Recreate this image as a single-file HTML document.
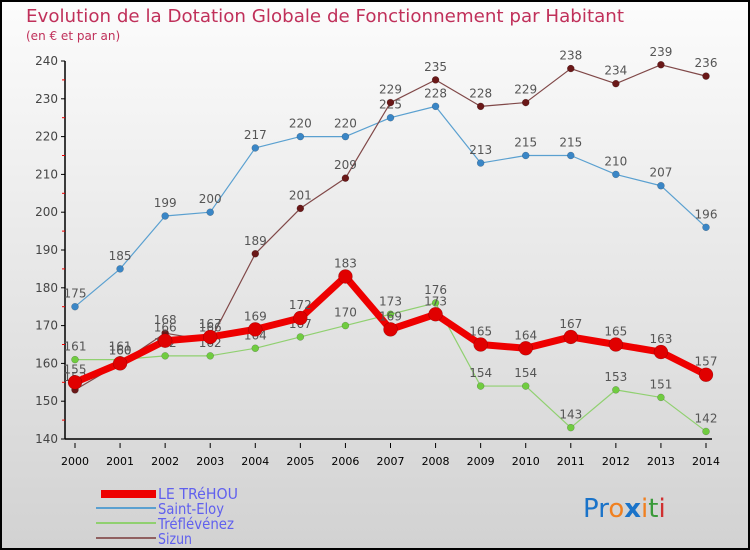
<!DOCTYPE html>
<html><head><meta charset="utf-8"><style>
body{margin:0}
#c{width:750px;height:550px;position:relative;box-sizing:border-box;border:2px solid #000;background:linear-gradient(#fcfcfc,#d2d2d2);overflow:hidden;font-family:"DejaVu Sans","Liberation Sans",sans-serif}
svg text{font-family:"DejaVu Sans","Liberation Sans",sans-serif}
</style></head><body>
<div id="c">
<svg id="s" width="746" height="546" viewBox="2 2 746 546" style="position:absolute;left:0;top:0">
<text x="26" y="22" font-size="18" fill="#c0305a" textLength="598" lengthAdjust="spacingAndGlyphs">Evolution de la Dotation Globale de Fonctionnement par Habitant</text>
<text x="26" y="40" font-size="12" fill="#c0305a">(en € et par an)</text>
<g id="axes"></g><g id="series"></g>
<g>
<rect x="101" y="490" width="55" height="8" fill="#e00"/>
<text x="158" y="499" font-size="15" fill="#6060ee" textLength="80" lengthAdjust="spacingAndGlyphs">LE TRéHOU</text>
<rect x="96" y="507" width="60" height="2" fill="#5aa0d0"/>
<text x="158" y="514" font-size="15" fill="#6060ee" textLength="66" lengthAdjust="spacingAndGlyphs">Saint-Eloy</text>
<rect x="96" y="522" width="60" height="2" fill="#90d070"/>
<text x="158" y="529" font-size="15" fill="#6060ee" textLength="76" lengthAdjust="spacingAndGlyphs">Tréflévénez</text>
<rect x="96" y="537" width="60" height="2" fill="#906060"/>
<text x="158" y="544" font-size="15" fill="#6060ee" textLength="34" lengthAdjust="spacingAndGlyphs">Sizun</text>
</g>
<text x="583" y="517" font-size="26"><tspan fill="#1a73c9">Pr</tspan><tspan fill="#f08020">o</tspan><tspan fill="#1a73c9" font-weight="bold">x</tspan><tspan fill="#f08020">i</tspan><tspan fill="#3a9a3a">t</tspan><tspan fill="#d03030">i</tspan></text>
</svg>
</div>
<script>
const years=[2000,2001,2002,2003,2004,2005,2006,2007,2008,2009,2010,2011,2012,2013,2014];
const yTicks=[140,150,160,170,180,190,200,210,220,230,240];
const leTrehou=[155,160,166,167,169,172,183,169,173,165,164,167,165,163,157];
const saintEloy=[175,185,199,200,217,220,220,225,228,213,215,215,210,207,196];
const treflevenez=[161,161,162,162,164,167,170,173,176,154,154,143,153,151,142];
const sizun=[153,160,168,166,189,201,209,229,235,228,229,238,234,239,236];
const NS="http://www.w3.org/2000/svg";
const xs=i=>75+i*(706-75)/14;
const ys=v=>439-(v-140)*(439-61)/100;
function mk(t,a,p){const e=document.createElementNS(NS,t);for(const k in a)e.setAttribute(k,a[k]);p.appendChild(e);return e;}
const ax=document.getElementById('axes');
const yl=mk('line',{x1:65,y1:61,x2:65,y2:439,stroke:'#000','stroke-width':1.5},ax);


const xl=mk('line',{x1:65,y1:439,x2:712,y2:439,stroke:'#000','stroke-width':1.5},ax);


yTicks.forEach(v=>{
 mk('line',{x1:61,y1:ys(v),x2:65,y2:ys(v),stroke:'#000'},ax);
 if(v<240)mk('line',{x1:62,y1:ys(v+5),x2:65,y2:ys(v+5),stroke:'#e00'},ax);
 const t=mk('text',{x:58,y:ys(v)+4,'font-size':12,'text-anchor':'end',fill:'#444'},ax);t.textContent=v;
 
 
});
years.forEach((y,i)=>{
 mk('line',{x1:xs(i),y1:443,x2:xs(i),y2:448,stroke:'#000'},ax);
 const t=mk('text',{x:xs(i),y:465,'font-size':11,'text-anchor':'middle',fill:'#000'},ax);t.textContent=y;
 
 
});
const sg=document.getElementById('series');
function draw(vals,name,col,dot,w,r){
 const g=mk('g',{},sg);
 
 
 const p=mk('polyline',{points:vals.map((v,i)=>xs(i)+','+ys(v)).join(' '),fill:'none',stroke:col,'stroke-width':w,'stroke-linejoin':'round'},g);
 
 
 vals.forEach((v,i)=>{
  const c=mk('circle',{cx:xs(i),cy:ys(v),r:r,fill:dot,stroke:'rgba(0,0,0,0.3)','stroke-width':0.5},g);
  
  
  const t=mk('text',{x:xs(i),y:ys(v)-9,'font-size':12,'text-anchor':'middle',fill:'#555'},g);t.textContent=v;
  
  
 });
}
draw(saintEloy,'saint-eloy','#5aa0d0','#3a86c6',1.2,3.5);
draw(treflevenez,'treflevenez','#90d070','#70cc40',1.2,3.5);
draw(sizun,'sizun','#804848','#6a1818',1.2,3.5);
draw(leTrehou,'le-trehou','#ee0000','#e00000',7,7);
</script>
</body></html>
